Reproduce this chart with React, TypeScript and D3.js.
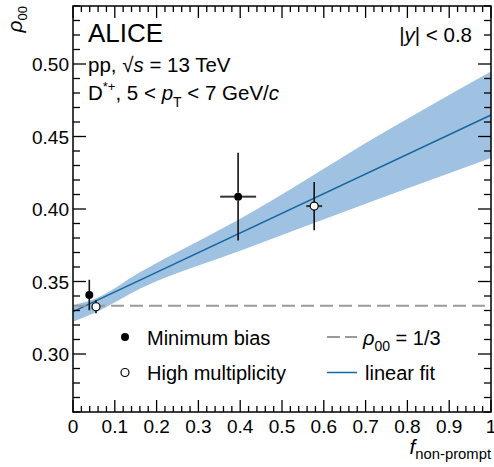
import * as d3 from "d3";

// ---- data ----
const mbX = [0.039, 0.395];
const mbY = [0.3407, 0.4085];
const mbXErr = [0.0, 0.043];
const mbYErr = [0.0105, 0.0303];

const hmX = [0.055, 0.577];
const hmY = [0.3326, 0.402];
const hmXErr = [0.006, 0.019];
const hmYErr = [0.0045, 0.0167];

const fitX = [0, 1];
const fitY = [0.3292, 0.4648];

const bandX = [0, 0.05, 0.16, 0.4, 0.734, 1];
const bandLow = [0.3223, 0.3281, 0.3450, 0.3712, 0.4072, 0.4352];
const bandHigh = [0.3338, 0.3377, 0.3563, 0.3932, 0.4512, 0.4948];

const refValue = 1 / 3;

const xMajor = [0, 0.1, 0.2, 0.3, 0.4, 0.5, 0.6, 0.7, 0.8, 0.9, 1];
const xLabels = ["0", "0.1", "0.2", "0.3", "0.4", "0.5", "0.6", "0.7", "0.8", "0.9", "1"];
const yMajor = [0.3, 0.35, 0.4, 0.45, 0.5];
const yLabels = ["0.30", "0.35", "0.40", "0.45", "0.50"];

const W = 494;
const H = 467;
const MARGIN = { top: 6, right: 3, bottom: 55, left: 73 };
const FONT = "'Liberation Sans', Arial, Helvetica, sans-serif";

const BAND = "#a0c2e2";
const FIT = "#16689c";
const GREY = "#9a9a9a";

export default function App() {
  const x = d3.scaleLinear().domain([0, 1]).range([MARGIN.left, W - MARGIN.right]);
  const y = d3.scaleLinear().domain([0.26, 0.54]).range([H - MARGIN.bottom, MARGIN.top]);

  const x0 = x.range()[0];
  const x1 = x.range()[1];
  const yb = y.range()[0];
  const yt = y.range()[1];

  const xMinor = d3.range(0, 1.0001, 0.02).filter((v) => Math.abs(Math.round(v * 10) - v * 10) > 1e-6);
  const yMinor = d3.range(0.26, 0.5401, 0.01).filter((v) => Math.abs(Math.round(v * 20) - v * 20) > 1e-6);

  const band = d3
    .area<number>()
    .x((_, i) => x(bandX[i]))
    .y0((_, i) => y(bandLow[i]))
    .y1((_, i) => y(bandHigh[i]))
    .curve(d3.curveMonotoneX);

  const fitLine = d3
    .line<number>()
    .x((_, i) => x(fitX[i]))
    .y((d) => y(d));

  const R = 4;

  const errBars = (
    xs: number[],
    ys: number[],
    xe: number[],
    ye: number[],
    key: string
  ) =>
    xs.map((xv, i) => {
      const cx = x(xv);
      const cy = y(ys[i]);
      return (
        <g key={key + i} stroke="#111" strokeWidth={1.6}>
          {ye[i] > 0 && (
            <>
              <line x1={cx} x2={cx} y1={y(ys[i] + ye[i])} y2={cy - R} />
              <line x1={cx} x2={cx} y1={cy + R} y2={y(ys[i] - ye[i])} />
            </>
          )}
          {xe[i] > 0 && (
            <>
              <line x1={x(xv - xe[i])} x2={cx - R} y1={cy} y2={cy} stroke="#333" strokeWidth={2} />
              <line x1={cx + R} x2={x(xv + xe[i])} y1={cy} y2={cy} stroke="#333" strokeWidth={2} />
            </>
          )}
        </g>
      );
    });

  return (
    <svg
      width={W}
      height={H}
      style={{ position: "absolute", left: 0, top: 0, background: "#fff" }}
      fontFamily={FONT}
    >
      {/* uncertainty band and fit */}
      <path d={band(bandX) ?? ""} fill={BAND} stroke="none" />
      <path d={fitLine(fitY) ?? ""} fill="none" stroke={FIT} strokeWidth={1.5} />

      {/* rho00 = 1/3 reference */}
      <line
        x1={x0}
        x2={x1}
        y1={y(refValue)}
        y2={y(refValue)}
        stroke={GREY}
        strokeWidth={2}
        strokeDasharray="13,6"
      />

      {/* data points */}
      {errBars(mbX, mbY, mbXErr, mbYErr, "mb")}
      {errBars(hmX, hmY, hmXErr, hmYErr, "hm")}
      {mbX.map((xv, i) => (
        <circle key={"mbc" + i} cx={x(xv)} cy={y(mbY[i])} r={R} fill="#000" />
      ))}
      {hmX.map((xv, i) => (
        <circle
          key={"hmc" + i}
          cx={x(xv)}
          cy={y(hmY[i])}
          r={R}
          fill="#fff"
          stroke="#000"
          strokeWidth={1.2}
        />
      ))}

      {/* frame */}
      <rect x={x0} y={yt} width={x1 - x0} height={yb - yt} fill="none" stroke="#000" strokeWidth={1.5} />

      {/* ticks on all four sides */}
      <g stroke="#000" strokeWidth={1.3}>
        {xMajor.map((v) => (
          <g key={"xM" + v}>
            <line x1={x(v)} x2={x(v)} y1={yb} y2={yb - 12} />
            <line x1={x(v)} x2={x(v)} y1={yt} y2={yt + 12} />
          </g>
        ))}
        {xMinor.map((v) => (
          <g key={"xm" + v}>
            <line x1={x(v)} x2={x(v)} y1={yb} y2={yb - 6} />
            <line x1={x(v)} x2={x(v)} y1={yt} y2={yt + 6} />
          </g>
        ))}
        {yMajor.map((v) => (
          <g key={"yM" + v}>
            <line x1={x0} x2={x0 + 13} y1={y(v)} y2={y(v)} />
            <line x1={x1} x2={x1 - 13} y1={y(v)} y2={y(v)} />
          </g>
        ))}
        {yMinor.map((v) => (
          <g key={"ym" + v}>
            <line x1={x0} x2={x0 + 7} y1={y(v)} y2={y(v)} />
            <line x1={x1} x2={x1 - 7} y1={y(v)} y2={y(v)} />
          </g>
        ))}
      </g>

      {/* tick labels */}
      <g fontSize={19} fill="#000">
        {xMajor.map((v, i) => (
          <text key={"xl" + v} x={x(v)} y={yb + 20.5} textAnchor="middle">
            {xLabels[i]}
          </text>
        ))}
        {yMajor.map((v, i) => (
          <text key={"yl" + v} x={x0 - 4} y={y(v) + 7} textAnchor="end">
            {yLabels[i]}
          </text>
        ))}
      </g>

      {/* axis titles */}
      <text transform={`translate(22,${yt}) rotate(-90)`} textAnchor="end" fontSize={21}>
        <tspan fontStyle="italic">ρ</tspan>
        <tspan fontSize={13} dy={5}>00</tspan>
      </text>
      <text x={x1} y={454} textAnchor="end" fontSize={21}>
        <tspan fontStyle="italic">f</tspan>
        <tspan fontSize={14.8} dy={5}>non-prompt</tspan>
      </text>

      {/* header texts */}
      <text x={88} y={42} fontSize={26}>ALICE</text>
      <text x={88} y={71.5} fontSize={20.5}>
        pp, √<tspan fontStyle="italic">s</tspan> = 13 TeV
      </text>
      <text x={88} y={100} fontSize={20.5}>
        D<tspan fontSize={13} dy={-9}>*+</tspan>
        <tspan dy={9}>, 5 &lt; </tspan>
        <tspan fontStyle="italic">p</tspan>
        <tspan fontSize={14} dy={7}>T</tspan>
        <tspan dy={-7}> &lt; 7 GeV/</tspan>
        <tspan fontStyle="italic">c</tspan>
      </text>
      <text x={472} y={42} fontSize={20.5} textAnchor="end">
        |<tspan fontStyle="italic">y</tspan>| &lt; 0.8
      </text>

      {/* legend */}
      <circle cx={125} cy={337} r={R} fill="#000" />
      <text x={147} y={344.5} fontSize={20}>Minimum bias</text>
      <circle cx={125} cy={372.5} r={R} fill="#fff" stroke="#000" strokeWidth={1.2} />
      <text x={147} y={380} fontSize={20}>High multiplicity</text>

      <line x1={327} x2={357} y1={337} y2={337} stroke={GREY} strokeWidth={2} strokeDasharray="13,5" />
      <text x={363} y={344.5} fontSize={20}>
        <tspan fontStyle="italic">ρ</tspan>
        <tspan fontSize={14} dy={6}>00</tspan>
        <tspan dy={-6}> = 1/3</tspan>
      </text>
      <line x1={327} x2={357} y1={372.5} y2={372.5} stroke={FIT} strokeWidth={1.5} />
      <text x={365} y={380} fontSize={20}>linear fit</text>
    </svg>
  );
}
